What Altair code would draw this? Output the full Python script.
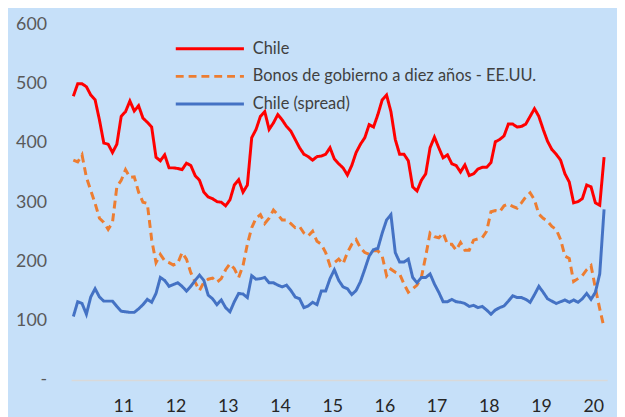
import altair as alt
import pandas as pd

series_names = ["Chile", "Bonos de gobierno a diez años - EE.UU.", "Chile (spread)"]

chile = [479, 500, 500, 495, 481, 473, 439, 400, 398, 384, 398, 445, 453, 471, 454, 463,
         442, 435, 427, 376, 370, 380, 358, 358, 357, 355, 366, 362, 345, 337, 317, 309,
         306, 301, 300, 294, 304, 329, 338, 317, 329, 409, 423, 445, 453, 423, 434, 448,
         439, 428, 420, 406, 392, 381, 377, 371, 377, 378, 381, 392, 373, 365, 358, 346,
         362, 384, 398, 409, 431, 427, 448, 473, 481, 453, 406, 381, 381, 370, 326, 319,
         337, 348, 392, 410, 392, 375, 380, 365, 362, 351, 363, 345, 348, 356, 359, 359,
         367, 402, 406, 412, 432, 432, 427, 428, 432, 445, 458, 445, 423, 403, 389, 381,
         371, 348, 334, 299, 301, 306, 329, 326, 299, 295, 376]

bonos = [371, 368, 380, 342, 320, 298, 273, 266, 254, 266, 326, 337, 355, 342, 343, 317,
         300, 298, 237, 198, 212, 201, 198, 194, 197, 215, 204, 181, 165, 151, 165, 170,
         172, 165, 171, 186, 196, 188, 173, 193, 229, 257, 273, 279, 264, 273, 287, 279,
         270, 270, 264, 257, 259, 248, 243, 251, 234, 229, 215, 193, 198, 204, 196, 215,
         229, 237, 223, 215, 212, 218, 218, 209, 176, 187, 182, 179, 162, 148, 154, 160,
         173, 209, 248, 242, 240, 248, 229, 229, 219, 232, 219, 219, 236, 238, 240, 251,
         284, 286, 284, 294, 297, 293, 290, 299, 309, 316, 304, 280, 273, 268, 259, 254,
         237, 209, 205, 166, 171, 176, 186, 193, 155, 120, 88]

spread = [107, 132, 129, 111, 140, 154, 140, 133, 133, 133, 124, 116, 115, 114, 114, 120,
          127, 136, 131, 146, 173, 168, 158, 161, 164, 158, 150, 158, 168, 177, 168, 143,
          137, 127, 135, 122, 115, 132, 146, 145, 139, 176, 170, 171, 173, 164, 164, 160,
          157, 160, 151, 140, 137, 122, 125, 131, 127, 150, 150, 171, 186, 168, 157, 154,
          144, 151, 166, 187, 209, 220, 222, 248, 270, 279, 215, 199, 199, 204, 173, 164,
          173, 173, 179, 162, 148, 132, 132, 136, 132, 131, 129, 124, 126, 122, 124, 118,
          111, 118, 122, 125, 133, 142, 139, 139, 136, 131, 144, 158, 148, 137, 133, 129,
          132, 135, 131, 135, 131, 137, 146, 136, 148, 179, 288]

y_ticks = [0, 100, 200, 300, 400, 500, 600]
year_labels = ["11", "12", "13", "14", "15", "16", "17", "18", "19", "20"]

colors = ["#FF0000", "#ED7D31", "#4472C4"]
dashes = [[1, 0], [8, 5], [1, 0]]
widths = [3, 3, 1.8]

rows = []
for name, vals in zip(series_names, [chile, bonos, spread]):
    for i, v in enumerate(vals):
        rows.append({"t": i, "valor": v, "serie": name})
df = pd.DataFrame(rows)

n = len(chile)
x_tick_vals = [11.5 + 12 * k for k in range(len(year_labels))]
label_expr = "[" + ",".join("'" + s + "'" for s in year_labels) + "][round((datum.value - 11.5) / 12)]"

FONT = "Lato"

leg = alt.Legend(
    title=None, orient="none", legendX=130, legendY=14,
    symbolType="M-4,0H4", symbolSize=298,
    labelFontSize=16.6, labelColor="#404040", labelFont=FONT, labelLimit=0,
    labelOffset=33, rowPadding=8,
)

chart = alt.Chart(df).mark_line().encode(
    x=alt.X("t:Q",
            scale=alt.Scale(domain=[-0.5, n - 0.3], nice=False, zero=False),
            axis=alt.Axis(values=x_tick_vals, labelExpr=label_expr, title=None,
                          grid=False, ticks=False, domainColor="#D9D9D9", domainWidth=1.5,
                          labelFontSize=18, labelColor="#262626", labelFont=FONT,
                          labelPadding=18)),
    y=alt.Y("valor:Q",
            scale=alt.Scale(domain=[0, 600], nice=False),
            axis=alt.Axis(values=y_ticks, labelExpr="datum.value == 0 ? '-' : datum.value",
                          title=None, grid=False, domain=False, ticks=False,
                          labelPadding=25, labelFontSize=18, labelColor="#595959",
                          labelFont=FONT)),
    color=alt.Color("serie:N", scale=alt.Scale(domain=series_names, range=colors), legend=leg),
    strokeDash=alt.StrokeDash("serie:N", scale=alt.Scale(domain=series_names, range=dashes), legend=leg),
    strokeWidth=alt.StrokeWidth("serie:N", scale=alt.Scale(domain=series_names, range=widths), legend=leg),
).properties(
    width=543, height=360,
    background="#C6E0F9",
    autosize=alt.AutoSizeParams(type="none"),
    padding={"left": 64, "top": 14, "right": 10, "bottom": 50},
).configure_view(stroke=None, fill="#C6E0F9")

chart.save("out.html", embed_options={"renderer": "svg", "actions": False})
